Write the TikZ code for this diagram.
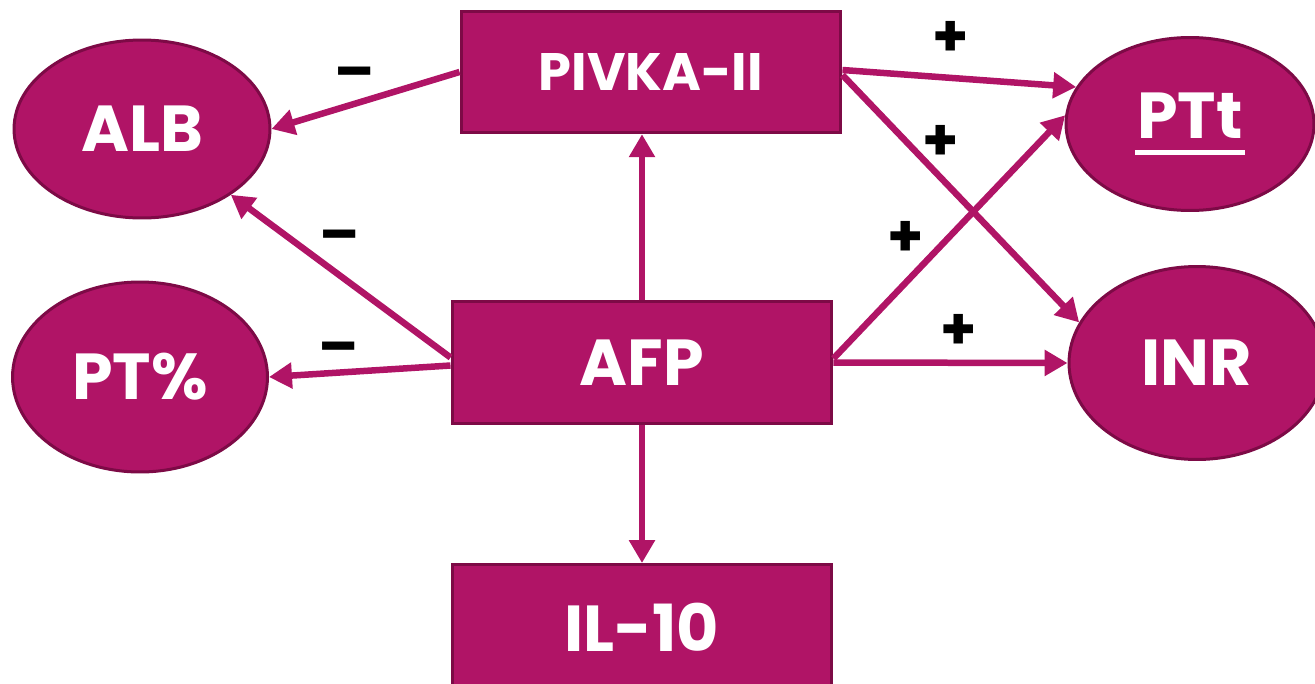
\documentclass[tikz,border=0pt]{standalone}
\usepackage{fontspec}
\setmainfont{Poppins}
\usetikzlibrary{arrows.meta,shapes.geometric,calc}
\definecolor{mag}{RGB}{176,20,102}
\definecolor{magdark}{RGB}{125,10,70}
\newcommand{\thickul}[1]{{\setbox0\hbox{#1}\rlap{\kern-0.03em\rule[-0.26em]{\dimexpr\wd0+0.06em\relax}{0.075em}}\box0}}
\begin{document}
\begin{tikzpicture}[x=0.02cm,y=-0.02cm,
  ell/.style={ellipse,draw=magdark,fill=mag,line width=0.06cm,text=white,
    font=\bfseries\fontsize{37}{40}\selectfont,inner sep=0pt},
  box/.style={rectangle,draw=magdark,fill=mag,line width=0.06cm,text=white,
    font=\bfseries\fontsize{37}{40}\selectfont,inner sep=0pt,
    minimum width=7.6cm,minimum height=2.43cm},
  arr/.style={draw=mag,line width=0.13cm,-{Triangle[length=0.46cm,width=0.5cm]}},
  sgn/.style={font=\bfseries\fontsize{33}{33}\selectfont,text=black,inner sep=0pt}]
\useasboundingbox (0,0) rectangle (1315,683);
% nodes
\node[ell,minimum width=5.12cm,minimum height=3.56cm] (alb) at (142,129) {ALB};
\node[ell,minimum width=5.1cm,minimum height=3.8cm] (pt) at (140,377) {PT\%};
\node[ell,minimum width=4.96cm,minimum height=3.46cm] (ptt) at (1190,124) {\thickul{PTt}};
\node[ell,minimum width=5.12cm,minimum height=3.86cm] (inr) at (1197,363) {INR};
\node[box,font=\bfseries\fontsize{30}{33}\selectfont] (pivka) at (651,72) {PIVKA-II};
\node[box] (afp) at (642,362.5) {AFP};
\node[box,minimum height=2.5cm] (il) at (642,627) {IL-10};
% connectors
\draw[arr] (pivka.west) -- (alb.east);
\draw[arr] ($(afp.west)+(0,-5)$) -- (alb);
\draw[arr] ($(afp.west)+(0,3)$) -- (pt.east);
\draw[arr] (afp.north) -- (afp.north |- pivka.south);
\draw[arr] (afp.south) -- (il.north);
\draw[arr] ($(pivka.east)+(0,-2)$) -- (ptt.162);
\draw[arr] ($(pivka.east)+(0,3)$) -- (inr.161);
\draw[arr] ($(afp.east)+(0,-4)$) -- (ptt.176);
\draw[arr] (afp.east) -- (inr.west);
% signs
\node[sgn] (m1) at (355,79) {–};
\node[sgn] (m2) at (340,242) {–};
\node[sgn] (m3) at (339,354) {–};
\node[sgn] (p1) at (951,39) {+};
\node[sgn] (p2) at (941,143) {+};
\node[sgn] (p3) at (906,239) {+};
\node[sgn] (p4) at (959,332) {+};
\end{tikzpicture}
\end{document}
